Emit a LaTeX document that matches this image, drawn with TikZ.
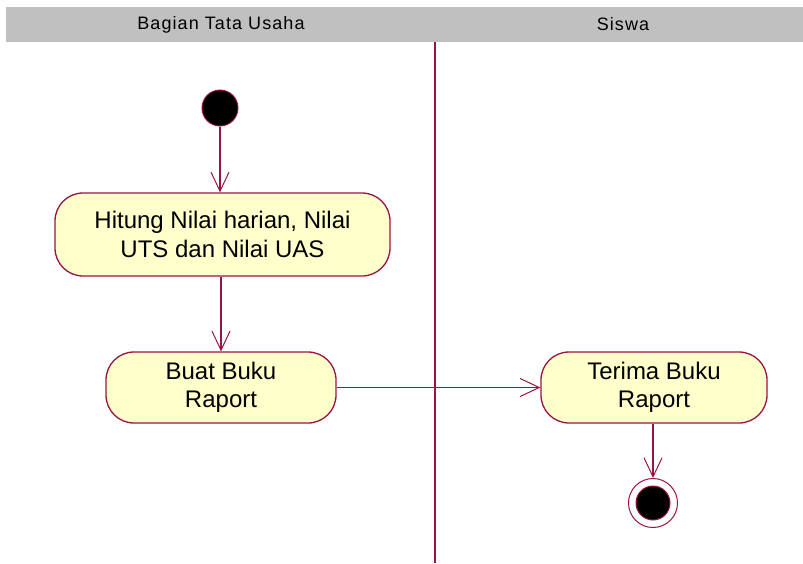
\documentclass[tikz,border=0pt]{standalone}
\usepackage{fontspec}
\setmainfont{Liberation Sans}
\usetikzlibrary{arrows.meta}
\definecolor{umlline}{RGB}{153,20,70}
\definecolor{umlfill}{RGB}{255,255,204}
\definecolor{lanehead}{RGB}{192,192,192}
\begin{document}
\begin{tikzpicture}[x=1pt,y=-1pt,
  flow/.style={draw=umlline, line width=1.3pt,
    -{Straight Barb[length=19pt,width=18pt,line width=1pt]}},
  activity/.style={draw=umlline, fill=umlfill, line width=1.3pt,
    rounded corners=28pt, inner sep=0pt, align=center,
    font=\fontsize{24}{28.5}\selectfont},
  lanelabel/.style={font=\fontsize{18}{20}\selectfont\addfontfeature{LetterSpace=6}}]
  \useasboundingbox (0,0) rectangle (803,563);
  % swimlane header and divider
  \fill[lanehead] (6,7) rectangle (803,42);
  \node[lanelabel] (laneA) at (221,24.5) {Bagian Tata Usaha};
  \node[lanelabel] (laneB) at (623,24.5) {Siswa};
  \draw[umlline, line width=1.5pt] (435,42) -- (435,563);
  % initial state
  \node[circle, draw=umlline, fill=black, line width=1pt,
        minimum size=36pt, inner sep=0pt] (start) at (220,108) {};
  % activities
  \node[activity, minimum width=335pt, minimum height=83pt]
    (hitung) at (222.5,234.5) {Hitung Nilai harian, Nilai\\UTS dan Nilai UAS};
  \node[activity, minimum width=230pt, minimum height=71pt]
    (buat) at (221,387.5) {Buat Buku\\Raport};
  \node[activity, minimum width=226pt, minimum height=71pt]
    (terima) at (654,387.5) {Terima Buku\\Raport};
  % final state
  \node[circle, draw=umlline, fill=white, line width=1pt,
        minimum size=49pt, inner sep=0pt] (final) at (653,503) {};
  \node[circle, draw=umlline, fill=black, line width=1pt,
        minimum size=34pt, inner sep=0pt] (finalcore) at (final) {};
  % transitions
  \draw[flow] (start) -- (start |- hitung.north);
  \draw[flow] (buat.north |- hitung.south) -- (buat.north);
  \draw[flow] (buat.east) -- (terima.west);
  \draw[flow] (final |- terima.south) -- (final.north);
\end{tikzpicture}
\end{document}
